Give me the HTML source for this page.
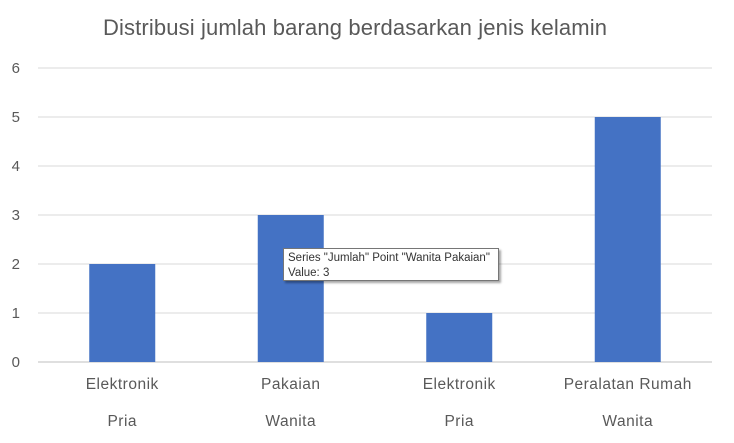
<!DOCTYPE html>
<html><head><meta charset="utf-8"><style>
body{margin:0;background:#fff;font-family:"Liberation Sans",sans-serif}
#c{position:relative;width:734px;height:443px;overflow:hidden}
.tip{position:absolute;left:283px;top:248px;width:216px;height:33px;border:1px solid #767676;background:#fff;box-shadow:2px 2px 2px rgba(0,0,0,0.35);font-size:11.5px;color:#333;padding:2px 0 0 4px;line-height:15px;box-sizing:border-box;white-space:nowrap}
</style></head><body>
<div id="c">
<svg id="s" width="734" height="443"></svg>
<div class="tip">Series "Jumlah" Point "Wanita Pakaian"<br>Value: 3</div>
</div>
<script>
const categories=["Elektronik","Pakaian","Elektronik","Peralatan Rumah"];
const groups=["Pria","Wanita","Pria","Wanita"];
const values=[2,3,1,5];
const yTicks=[0,1,2,3,4,5,6];
const NS="http://www.w3.org/2000/svg";
const s=document.getElementById('s');
const x0=38,x1=712,y0=362,yTop=68,yMax=6;
const y=v=>y0-(y0-yTop)*v/yMax;
const bw=(x1-x0)/categories.length;
const xc=i=>x0+bw*(i+0.5);
function mk(t,a,txt){const e=document.createElementNS(NS,t);for(const k in a)e.setAttribute(k,a[k]);if(txt!=null)e.textContent=txt;s.appendChild(e);return e;}
const t=mk('text',{x:355,y:35,'text-anchor':'middle','font-size':22,fill:'#595959','textLength':504});
t.textContent='Distribusi jumlah barang berdasarkan jenis kelamin';


yTicks.forEach(v=>{
 const l=mk('line',{x1:x0,x2:x1,y1:y(v),y2:y(v),stroke:v==0?'#bfbfbf':'#d9d9d9','stroke-width':1});
 
 
 const tx=mk('text',{x:20,y:y(v)+5,'text-anchor':'end','font-size':15,fill:'#595959'},v);
 
 
});
values.forEach((v,i)=>{
 const r=mk('rect',{x:xc(i)-33,y:y(v),width:66,height:y0-y(v),fill:'#4472c4'});
 
 
 const a=mk('text',{x:xc(i),y:389,'text-anchor':'middle','font-size':15.5,fill:'#595959','letter-spacing':0.5},categories[i]);
 
 
 const b=mk('text',{x:xc(i),y:426,'text-anchor':'middle','font-size':15.5,fill:'#595959','letter-spacing':0.5},groups[i]);
 
 
});
</script>
</body></html>
